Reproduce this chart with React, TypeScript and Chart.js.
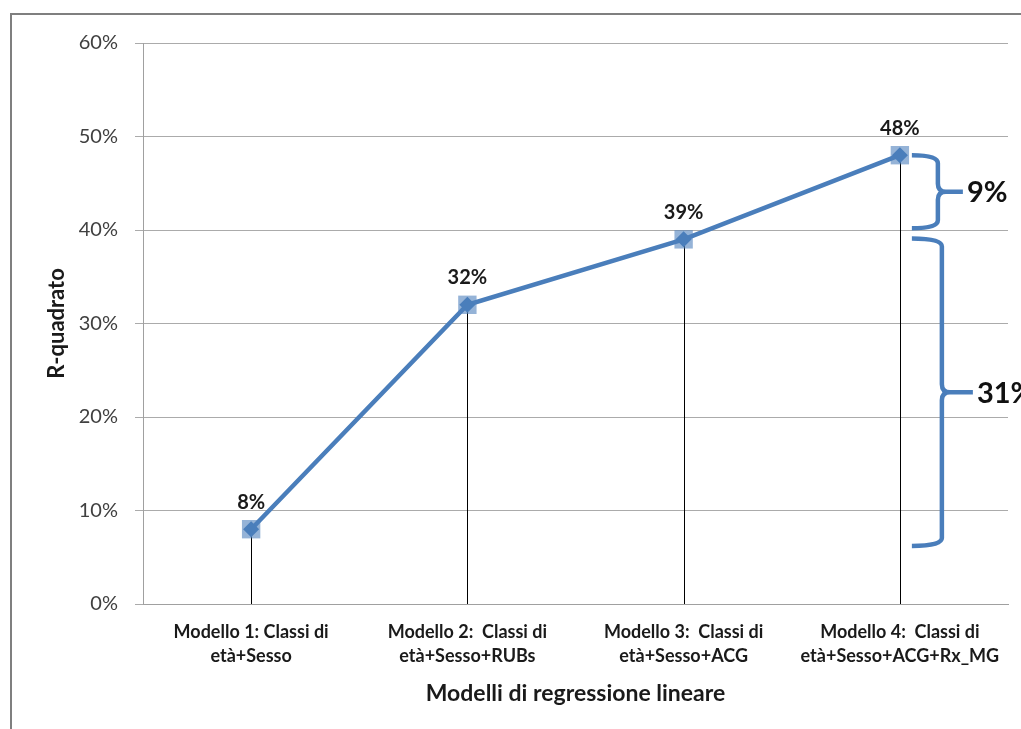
import React, { useEffect, useRef } from "react";
import { Chart, registerables } from "chart.js";

Chart.register(...registerables);

const categories: string[][] = [
  ["Modello 1: Classi di", "età+Sesso"],
  ["Modello 2:  Classi di", "età+Sesso+RUBs"],
  ["Modello 3:  Classi di", "età+Sesso+ACG"],
  ["Modello 4:  Classi di", "età+Sesso+ACG+Rx_MG"],
];
const rSquared: number[] = [8, 32, 39, 48];
const valueLabels: string[] = ["8%", "32%", "39%", "48%"];
const yTickValues: number[] = [0, 10, 20, 30, 40, 50, 60];
const braceTop: number[] = [48, 39.1];
const braceBottom: number[] = [40.2, 6.2];
const braceLabels: string[] = ["9%", "31%"];

const FONT = "Lato, 'Open Sans', sans-serif";
const BLUE = "#4a7ebb";

const dropLinesPlugin = {
  id: "dropLines",
  beforeDatasetsDraw(chart: any) {
    const meta = chart.getDatasetMeta(0);
    const y0 = chart.scales.y.getPixelForValue(0);
    const ctx = chart.ctx;
    ctx.save();
    ctx.strokeStyle = "#000000";
    ctx.lineWidth = 1;
    meta.data.forEach((pt: any) => {
      const x = Math.round(pt.x) + 0.5;
      ctx.beginPath();
      ctx.moveTo(x, pt.y);
      ctx.lineTo(x, y0);
      ctx.stroke();
    });
    ctx.restore();
  },
};

const labelsPlugin = {
  id: "valueLabels",
  afterDatasetsDraw(chart: any) {
    const meta = chart.getDatasetMeta(0);
    const ctx = chart.ctx;
    ctx.save();
    ctx.font = `bold 20px ${FONT}`;
    ctx.fillStyle = "#1a1a1a";
    ctx.textAlign = "center";
    ctx.textBaseline = "middle";
    meta.data.forEach((pt: any, i: number) => {
      ctx.fillText(valueLabels[i], pt.x, pt.y - 27);
    });
    ctx.restore();
  },
};

const bracesPlugin = {
  id: "braces",
  afterDraw(chart: any) {
    const ys = chart.scales.y;
    const meta = chart.getDatasetMeta(0);
    const lastPt = meta.data[meta.data.length - 1];
    const ctx = chart.ctx;
    ctx.save();
    ctx.strokeStyle = BLUE;
    ctx.lineWidth = 4.5;
    ctx.lineJoin = "round";
    ctx.lineCap = "butt";
    const vOff = [26, 30];
    const tipOff = [25, 31];
    braceTop.forEach((top, i) => {
      const yT = ys.getPixelForValue(top);
      const yB = ys.getPixelForValue(braceBottom[i]);
      const yM = (yT + yB) / 2;
      const x0 = lastPt.x + 12;
      const xV = x0 + vOff[i];
      const xTip = xV + tipOff[i];
      const r = 8;
      ctx.beginPath();
      ctx.moveTo(x0, yT);
      ctx.quadraticCurveTo(xV, yT, xV, yT + r);
      ctx.lineTo(xV, yM - r);
      ctx.quadraticCurveTo(xV, yM, xV + r, yM);
      ctx.lineTo(xTip, yM);
      ctx.moveTo(xV + r, yM);
      ctx.quadraticCurveTo(xV, yM, xV, yM + r);
      ctx.lineTo(xV, yB - r);
      ctx.quadraticCurveTo(xV, yB, x0, yB);
      ctx.stroke();
      ctx.font = `bold 29px ${FONT}`;
      ctx.fillStyle = "#111111";
      ctx.textAlign = "left";
      ctx.textBaseline = "middle";
      ctx.fillText(braceLabels[i], xTip + 4, yM + 1);
    });
    ctx.restore();
  },
};

export default function App() {
  const canvasRef = useRef<HTMLCanvasElement | null>(null);

  useEffect(() => {
    const canvas = canvasRef.current;
    if (!canvas) return;
    const chart = new Chart(canvas, {
      type: "line",
      data: {
        labels: categories,
        datasets: [
          {
            data: rSquared,
            borderColor: BLUE,
            borderWidth: 4.5,
            pointStyle: "rect",
            pointRadius: 13,
            pointBackgroundColor: "rgba(79,129,189,0.6)",
            pointBorderWidth: 0,
            tension: 0,
            order: 2,
          },
          {
            data: rSquared,
            showLine: false,
            pointStyle: "rectRot",
            pointRadius: 8,
            pointBackgroundColor: BLUE,
            pointBorderWidth: 0,
            order: 1,
          },
        ],
      },
      options: {
        responsive: false,
        animation: false,
        events: [],
        layout: { padding: { top: 43, right: 11, left: 0, bottom: 0 } },
        plugins: {
          legend: { display: false },
          tooltip: { enabled: false },
        },
        scales: {
          x: {
            type: "category",
            offset: true,
            grid: { display: false, drawTicks: false },
            border: { display: true, color: "#a0a0a0", width: 1 },
            ticks: {
              padding: 16,
              maxRotation: 0,
              autoSkip: false,
              color: "#1a1a1a",
              font: { family: FONT, size: 18, weight: "bold", lineHeight: 1.34 },
            },
            title: {
              display: true,
              text: "Modelli di regressione lineare",
              color: "#1a1a1a",
              font: { family: FONT, size: 23, weight: "bold", lineHeight: 1.2 },
              padding: { top: 0, bottom: 22 },
            },
            afterFit(scale: any) {
              scale.height = 125;
            },
          },
          y: {
            min: 0,
            max: 60,
            afterBuildTicks(scale: any) {
              scale.ticks = yTickValues.map((v) => ({ value: v }));
            },
            grid: { color: "#ababab", lineWidth: 1, tickLength: 8, drawTicks: true },
            border: { display: true, color: "#a0a0a0", width: 1 },
            ticks: {
              padding: 17,
              color: "#404040",
              font: { family: FONT, size: 20 },
              callback: (v: any) => `${v}%`,
            },
            title: {
              display: true,
              text: "R-quadrato",
              color: "#1a1a1a",
              font: { family: FONT, size: 22, weight: "bold", lineHeight: 1.2 },
              padding: { top: 44, bottom: 0 },
            },
            afterFit(scale: any) {
              scale.width = 143;
            },
          },
        },
      },
      plugins: [dropLinesPlugin, labelsPlugin, bracesPlugin],
    });
    return () => chart.destroy();
  }, []);

  return (
    <div
      style={{
        position: "fixed",
        left: 0,
        top: 0,
        width: 1021,
        height: 729,
        background: "#ffffff",
        overflow: "hidden",
      }}
    >
      <div
        style={{
          position: "absolute",
          left: 10,
          top: 13,
          width: 1100,
          height: 800,
          borderLeft: "2px solid #7f7f7f",
          borderTop: "2px solid #7f7f7f",
        }}
      />
      <canvas
        ref={canvasRef}
        width={1021}
        height={729}
        style={{ position: "absolute", left: 0, top: 0, width: 1021, height: 729 }}
      />
    </div>
  );
}
